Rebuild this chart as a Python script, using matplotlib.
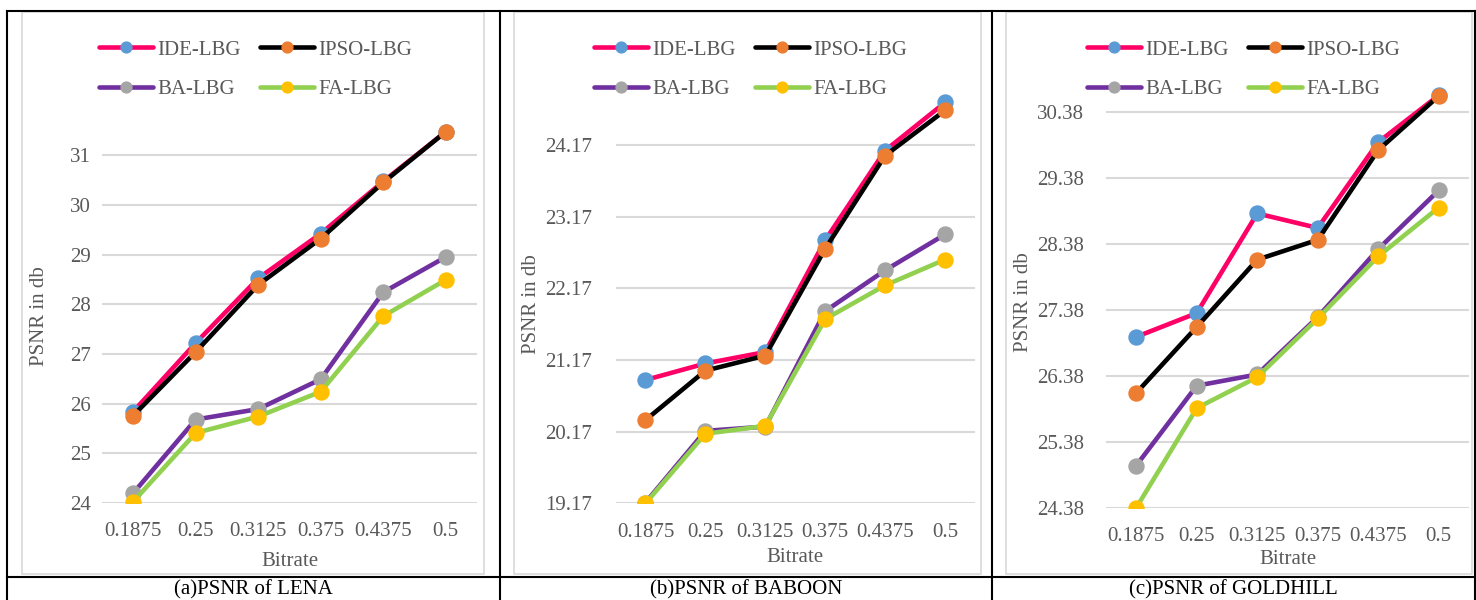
import matplotlib
matplotlib.use("Agg")
import matplotlib.pyplot as plt
from matplotlib.lines import Line2D
from matplotlib.patches import Rectangle

plt.rcParams['font.family'] = ['Liberation Serif', 'DejaVu Serif']

# data
bitrates = ['0.1875', '0.25', '0.3125', '0.375', '0.4375', '0.5']
methods = ['IDE-LBG', 'IPSO-LBG', 'BA-LBG', 'FA-LBG']

lena_ide = [25.84, 27.22, 28.52, 29.42, 30.47, 31.47]
lena_ipso = [25.76, 27.04, 28.39, 29.32, 30.45, 31.47]
lena_ba = [24.20, 25.68, 25.89, 26.49, 28.24, 28.95]
lena_fa = [24.03, 25.41, 25.74, 26.24, 27.76, 28.49]
lena_ticks = [24, 25, 26, 27, 28, 29, 30, 31]

baboon_ide = [20.89, 21.12, 21.28, 22.84, 24.09, 24.76]
baboon_ipso = [20.33, 21.02, 21.23, 22.72, 24.02, 24.65]
baboon_ba = [19.18, 20.18, 20.24, 21.85, 22.42, 22.92]
baboon_fa = [19.17, 20.14, 20.25, 21.74, 22.21, 22.57]
baboon_ticks = [19.17, 20.17, 21.17, 22.17, 23.17, 24.17]

gold_ide = [26.97, 27.33, 28.84, 28.62, 29.92, 30.63]
gold_ipso = [26.12, 27.12, 28.14, 28.44, 29.80, 30.62]
gold_ba = [25.02, 26.23, 26.40, 27.27, 28.30, 29.19]
gold_fa = [24.38, 25.89, 26.36, 27.25, 28.19, 28.93]
gold_ticks = [24.38, 25.38, 26.38, 27.38, 28.38, 29.38, 30.38]

captions = ['(a)PSNR of LENA', '(b)PSNR of BABOON', '(c)PSNR of GOLDHILL']

line_colors = ['#FF0066', '#000000', '#7030A0', '#92D050']
marker_colors = ['#5B9BD5', '#ED7D31', '#A5A5A5', '#FFC000']
GRID = '#D9D9D9'
TXT = '#595959'

W, H = 1476, 600
fig = plt.figure(figsize=(W / 100, H / 100), dpi=100)


def fx(px):
    return px / W


def fy(py):
    return 1 - py / H


# panel geometry in pixels: plot left/right, pixel of first tick, pixels per unit
panels = [
    dict(series=[lena_ide, lena_ipso, lena_ba, lena_fa], ticks=lena_ticks, fmt='%d',
         left=102, right=477, base=503, ppu=49.7, ypad=8, leg_x=99, xlab=552,
         ylab_x=39, ylab_y=316, cell=(7, 500), inner=(22, 484)),
    dict(series=[baboon_ide, baboon_ipso, baboon_ba, baboon_fa], ticks=baboon_ticks, fmt='%.2f',
         left=615.5, right=975, base=503.3, ppu=71.7, ypad=17, leg_x=594, xlab=548,
         ylab_x=532, ylab_y=304, cell=(500, 992), inner=(514, 981)),
    dict(series=[gold_ide, gold_ipso, gold_ba, gold_fa], ticks=gold_ticks, fmt='%.2f',
         left=1106, right=1469, base=507.8, ppu=66.0, ypad=16, leg_x=1087, xlab=550,
         ylab_x=1023, ylab_y=302, cell=(992, 1475), inner=(1006, 1472)),
]

top_px = 20
for i, p in enumerate(panels):
    # light grey chart area border
    x0, x1 = p['inner']
    fig.add_artist(Rectangle((fx(x0), fy(574)), fx(x1 - x0), (574 - 12) / H,
                             transform=fig.transFigure, fill=False, edgecolor=GRID, lw=1.2))

    ax = fig.add_axes([fx(p['left']), fy(p['base']), fx(p['right'] - p['left']), (p['base'] - top_px) / H])
    xs = range(len(bitrates))
    for vals, lc, mc in zip(p['series'], line_colors, marker_colors):
        ax.plot(xs, vals, color=lc, lw=3.3, marker='o', markersize=10.8,
                markerfacecolor=mc, markeredgecolor=mc, solid_capstyle='round')

    y0 = p['ticks'][0]
    ax.set_ylim(y0, y0 + (p['base'] - top_px) / p['ppu'])
    ax.set_xlim(-0.5, len(bitrates) - 0.5)
    ax.set_yticks(p['ticks'])
    ax.set_yticklabels([p['fmt'] % t for t in p['ticks']])
    ax.set_xticks(list(xs))
    ax.set_xticklabels(bitrates)
    ax.tick_params(axis='both', length=0, labelsize=15, colors=TXT)
    ax.tick_params(axis='y', pad=p['ypad'])
    ax.tick_params(axis='x', pad=14)
    ax.grid(axis='y', color=GRID, lw=1.5)
    ax.set_axisbelow(True)
    for s in ax.spines.values():
        s.set_visible(False)
    ax.set_facecolor('none')

    ax.set_xlabel('Bitrate', fontsize=15, color=TXT)
    ax.xaxis.set_label_coords(0.5, -(p['xlab'] - p['base']) / (p['base'] - top_px))
    fig.text(fx(p['ylab_x']), fy(p['ylab_y']), 'PSNR in db', rotation=90, fontsize=15,
             color=TXT, ha='center', va='center')

    # legend, two rows
    handles = [Line2D([0], [0], color=lc, lw=3.3, marker='o', markersize=7.8,
                      markerfacecolor=mc, markeredgecolor=mc, solid_capstyle='round')
               for lc, mc in zip(line_colors, marker_colors)]
    order = [0, 2, 1, 3]
    leg = ax.legend([handles[k] for k in order], [methods[k] for k in order], ncol=2,
                    loc='upper left', bbox_to_anchor=(fx(p['leg_x']), fy(40)),
                    bbox_transform=fig.transFigure, frameon=False, fontsize=15,
                    handlelength=2.6, handletextpad=0.2, columnspacing=0.9,
                    labelspacing=0.95, borderpad=0, borderaxespad=0)
    for t in leg.get_texts():
        t.set_color(TXT)

    # caption
    c0, c1 = p['cell']
    fig.text(fx((c0 + c1) / 2), fy(590), captions[i], fontsize=15, color='black',
             ha='center', va='center')

# table lines
tbl = dict(color='black', lw=1.5, transform=fig.transFigure)
fig.add_artist(Line2D([fx(7), fx(1475)], [fy(10.5), fy(10.5)], **tbl))
fig.add_artist(Line2D([fx(7), fx(1475)], [fy(576.5), fy(576.5)], **tbl))
for xv in [7, 500, 992, 1475]:
    fig.add_artist(Line2D([fx(xv), fx(xv)], [fy(10.5), 0], **tbl))

fig.savefig('out.png', dpi=100, facecolor='white')
